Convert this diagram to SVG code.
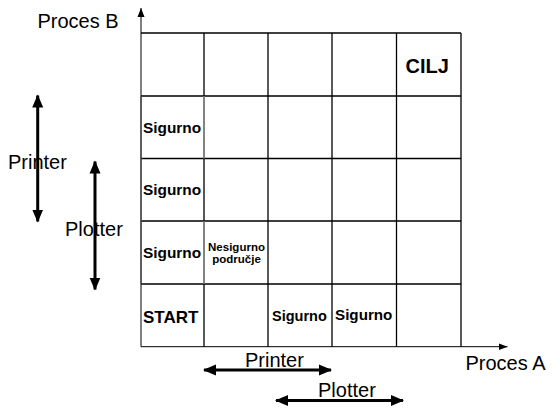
<svg xmlns="http://www.w3.org/2000/svg" width="552" height="409" viewBox="0 0 552 409">
  <defs>
    <style>
      .grid { stroke: #000; stroke-width: 1.3; fill: none; }
      .soft { stroke: #9a9a9a; stroke-width: 1.3; fill: none; }
      .axis { stroke: #000; stroke-width: 1; fill: none; }
      .span { stroke: #000; stroke-width: 3; fill: none; }
      .lbl { font-family: "Liberation Sans", Arial, sans-serif; font-size: 20px; fill: #000; }
      .cell { font-family: "Liberation Sans", Arial, sans-serif; font-weight: bold; fill: #000; }
    </style>
    <marker id="axisHead" markerUnits="userSpaceOnUse" markerWidth="10" markerHeight="10" viewBox="0 0 10 10" refX="9" refY="5" orient="auto">
      <path d="M0,1.5 L9,5 L0,8.5 Z" fill="#000"/>
    </marker>
    <marker id="spanHead" markerUnits="userSpaceOnUse" markerWidth="14" markerHeight="14" viewBox="0 0 14 14" refX="12" refY="7" orient="auto-start-reverse">
      <path d="M0,1.5 L13,7 L0,12.5 Z" fill="#000"/>
    </marker>
  </defs>

  <!-- state grid: 5 x 5 cells -->
  <g id="grid">
    <path class="grid" d="M141,33 H461 M141,96 H461 M141,158.5 H461 M141,221 H461 M141,284 H461"/>
    <path class="grid" d="M204,33 V346.7 M268,33 V346.7 M332,33 V346.7 M396.5,33 V346.7 M461,33 V346.7"/>
    <!-- lighter borders of the marked cells -->
    <path class="soft" d="M141,96 V284 M204,96 V158.5 M204,221 V284"/>
  </g>

  <!-- labelled cells -->
  <g id="cilj"><text class="cell" x="405.5" y="72.5" font-size="20">CILJ</text></g>
  <g id="sigurno-r1"><text class="cell" x="143" y="133" font-size="15.4">Sigurno</text></g>
  <g id="sigurno-r2"><text class="cell" x="143" y="195" font-size="15.4">Sigurno</text></g>
  <g id="sigurno-r3"><text class="cell" x="143" y="257.5" font-size="15.4">Sigurno</text></g>
  <g id="nesigurno">
    <text class="cell" x="236.5" y="251" font-size="11.5" text-anchor="middle">Nesigurno</text>
    <text class="cell" x="236.5" y="263" font-size="11.5" text-anchor="middle">područje</text>
  </g>
  <g id="start"><text class="cell" x="143" y="322.5" font-size="17">START</text></g>
  <g id="sigurno-c2"><text class="cell" x="272" y="321" font-size="14.5">Sigurno</text></g>
  <g id="sigurno-c3"><text class="cell" x="335" y="320" font-size="15.2">Sigurno</text></g>

  <!-- axes and resource spans -->
  <g id="connectors">
    <line class="axis" x1="141" y1="346.7" x2="141" y2="8" marker-end="url(#axisHead)"/>
    <line class="axis" x1="141" y1="346.7" x2="507.5" y2="346.7" marker-end="url(#axisHead)"/>
    <line class="span" x1="204" y1="370" x2="331" y2="370" marker-start="url(#spanHead)" marker-end="url(#spanHead)"/>
    <line class="span" x1="276" y1="400.5" x2="403" y2="400.5" marker-start="url(#spanHead)" marker-end="url(#spanHead)"/>
    <line class="span" x1="37.7" y1="95.5" x2="37.7" y2="221.5" marker-start="url(#spanHead)" marker-end="url(#spanHead)"/>
    <line class="span" x1="95" y1="161.5" x2="95" y2="289.5" marker-start="url(#spanHead)" marker-end="url(#spanHead)"/>
  </g>

  <!-- axis and span labels -->
  <g id="labels">
    <text class="lbl" x="37.5" y="28">Proces B</text>
    <text class="lbl" x="465.5" y="370">Proces A</text>
    <text class="lbl" x="245" y="366.5">Printer</text>
    <text class="lbl" x="318" y="396.5">Plotter</text>
    <text class="lbl" x="8" y="168.5">Printer</text>
    <text class="lbl" x="65" y="236">Plotter</text>
  </g>
</svg>
